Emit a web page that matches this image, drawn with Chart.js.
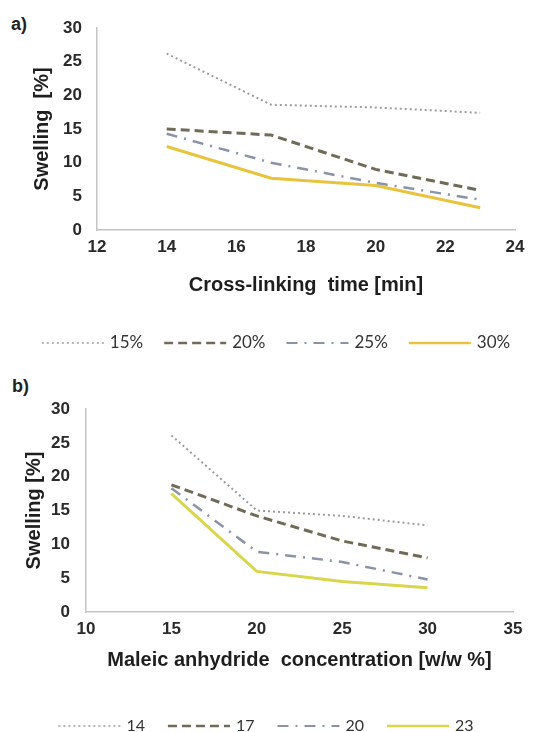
<!DOCTYPE html>
<html>
<head>
<meta charset="utf-8">
<script src="https://cdn.jsdelivr.net/npm/chart.js@4.4.1/dist/chart.umd.min.js"></script>
<style>
    body { margin: 0; background: #fff; width: 534px; height: 732px; overflow: hidden; position: relative; }
    .panel { position: absolute; left: 0; }
    #panelA { top: 0; }
    #panelB { top: 372px; }
    .tag { position: absolute; font: bold 18px "Liberation Sans", Arial, sans-serif; color: #222; }
</style>
</head>
<body>
<div class="tag" style="left:11px; top:14px;">a)</div>
<div class="tag" style="left:12px; top:376px;">b)</div>
<canvas id="panelA" class="panel" width="534" height="372"></canvas>
<canvas id="panelB" class="panel" width="534" height="360"></canvas>
<script>
// panel a: swelling vs cross-linking time, one line per MA concentration
const crossLinkTime = [14, 17, 20, 23];
const maLabels = ["15%", "20%", "25%", "30%"];
const swellMA15 = [26.2, 18.6, 18.2, 17.4];
const swellMA20 = [15, 14.1, 9, 5.9];
const swellMA25 = [14.3, 10, 7, 4.5];
const swellMA30 = [12.4, 7.7, 6.6, 3.3];

// panel b: swelling vs MA concentration, one line per cross-linking time
const maConcentration = [15, 20, 25, 30];
const timeLabels = ["14", "17", "20", "23"];
const swellT14 = [26.1, 15, 14.2, 12.8];
const swellT17 = [18.8, 14.2, 10.5, 8];
const swellT20 = [18.3, 8.9, 7.4, 4.8];
const swellT23 = [17.5, 6, 4.5, 3.6];

const swellTicks = { min: 0, max: 30, step: 5 };

const lineStyles = [
    { borderColor: '#9c9c9c', borderWidth: 2, borderDash: [2, 3] },
    { borderColor: '#6f6b57', borderWidth: 3, borderDash: [9, 5] },
    { borderColor: '#8a93a7', borderWidth: 2.5, borderDash: [11, 7, 2, 7] },
    { borderColor: '#e8c43e', borderWidth: 3, borderDash: [] }
];

function makeDataset(label, xs, ys, style) {
    return Object.assign({
        label: label,
        data: xs.map((x, i) => ({ x: x, y: ys[i] })),
        fill: false,
        pointRadius: 0,
        tension: 0,
        borderCapStyle: 'butt'
    }, style);
}

// draws the line-sample legend under each panel
const lineLegend = {
    id: 'lineLegend',
    afterDraw(chart, args, opts) {
        const ctx = chart.ctx;
        ctx.save();
        ctx.font = opts.font;
        const items = chart.data.datasets.map(ds => ({ ds: ds, w: ctx.measureText(ds.label).width }));
        let total = opts.spacing * (items.length - 1);
        items.forEach(it => { total += opts.lineLength + opts.gap + it.w; });
        let x = opts.centerX - total / 2;
        items.forEach(({ ds, w }) => {
            ctx.strokeStyle = ds.borderColor;
            ctx.lineWidth = ds.borderWidth - 0.5;
            ctx.setLineDash(ds.borderDash || []);
            ctx.beginPath();
            ctx.moveTo(x, opts.y);
            ctx.lineTo(x + opts.lineLength, opts.y);
            ctx.stroke();
            x += opts.lineLength + opts.gap;
            ctx.setLineDash([]);
            ctx.fillStyle = opts.color;
            ctx.textBaseline = 'middle';
            ctx.fillText(ds.label, x, opts.y);
            x += w + opts.spacing;
        });
        ctx.restore();
    }
};

const tickFont = { family: '"Liberation Sans", Arial, sans-serif', size: 17, weight: 'bold' };
const titleFont = { family: '"Liberation Sans", Arial, sans-serif', size: 20, weight: 'bold' };

function panelOptions(p) {
    return {
        responsive: false,
        animation: false,
        layout: { padding: { left: p.padLeft, top: p.padTop, right: p.padRight, bottom: p.padBottom } },
        plugins: {
            legend: { display: false },
            tooltip: { enabled: false },
            lineLegend: p.legend
        },
        scales: {
            x: {
                type: 'linear',
                min: p.xMin, max: p.xMax,
                ticks: { stepSize: p.xStep, padding: 7, color: '#2a2a2a', font: tickFont },
                grid: { display: false, drawTicks: false },
                border: { color: '#c4c4c4', width: 1.5 },
                title: { display: true, text: p.xTitle, color: '#1e1e1e', font: titleFont, padding: 0 },
                afterFit: s => { s.height = p.xHeight; }
            },
            y: {
                min: swellTicks.min, max: swellTicks.max,
                ticks: { stepSize: swellTicks.step, padding: p.yPad, color: '#2a2a2a', font: tickFont },
                grid: { display: false, drawTicks: false },
                border: { color: '#c4c4c4', width: 1.5 },
                title: { display: true, text: p.yTitle, color: '#1e1e1e', font: titleFont, padding: 0 },
                afterFit: s => { s.width = p.yWidth; }
            }
        }
    };
}

new Chart(document.getElementById('panelA'), {
    type: 'line',
    data: {
        datasets: [
            makeDataset(maLabels[0], crossLinkTime, swellMA15, lineStyles[0]),
            makeDataset(maLabels[1], crossLinkTime, swellMA20, lineStyles[1]),
            makeDataset(maLabels[2], crossLinkTime, swellMA25, lineStyles[2]),
            makeDataset(maLabels[3], crossLinkTime, swellMA30, lineStyles[3])
        ]
    },
    options: panelOptions({
        padLeft: 30, padTop: 28, padRight: 19, padBottom: 75,
        xMin: 12, xMax: 24, xStep: 2, xHeight: 67, yWidth: 67, yPad: 15,
        xTitle: 'Cross-linking  time [min]',
        yTitle: 'Swelling  [%]',
        legend: { font: '17px Lato, "Open Sans", sans-serif', color: '#333', centerX: 276, y: 343, lineLength: 62, gap: 6, spacing: 21 }
    }),
    plugins: [lineLegend]
});

const styleB = lineStyles.slice(0, 3).concat([{ borderColor: '#d9d64c', borderWidth: 3, borderDash: [] }]);

new Chart(document.getElementById('panelB'), {
    type: 'line',
    data: {
        datasets: [
            makeDataset(timeLabels[0], maConcentration, swellT14, styleB[0]),
            makeDataset(timeLabels[1], maConcentration, swellT17, styleB[1]),
            makeDataset(timeLabels[2], maConcentration, swellT20, styleB[2]),
            makeDataset(timeLabels[3], maConcentration, swellT23, styleB[3])
        ]
    },
    options: panelOptions({
        padLeft: 22, padTop: 37, padRight: 21, padBottom: 60,
        xMin: 10, xMax: 35, xStep: 5, xHeight: 60, yWidth: 64, yPad: 16,
        xTitle: 'Maleic anhydride  concentration [w/w %]',
        yTitle: 'Swelling [%]',
        legend: { font: '16px Lato, "Open Sans", sans-serif', color: '#333', centerX: 266, y: 354, lineLength: 62, gap: 6, spacing: 23 }
    }),
    plugins: [lineLegend]
});
</script>
</body>
</html>
